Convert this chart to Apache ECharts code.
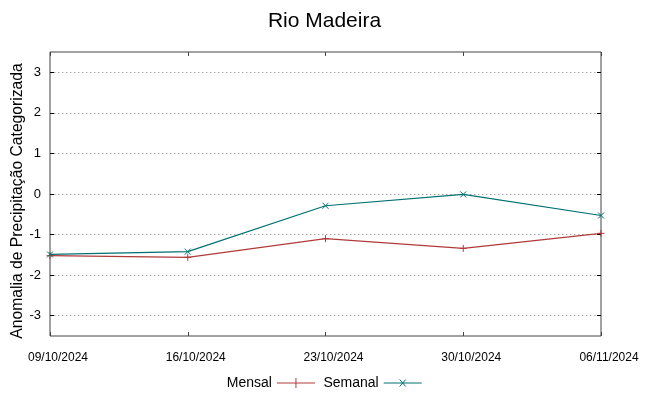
<!DOCTYPE html>
<html><head><meta charset="utf-8">
<script src="https://cdn.jsdelivr.net/npm/echarts@6/dist/echarts.min.js"></script>
<style>html,body{margin:0;padding:0;background:#fff}#c{width:649px;height:396px}</style>
</head><body><div id="c"></div>
<script>
const categories = ['09/10/2024','16/10/2024','23/10/2024','30/10/2024','06/11/2024'];
const mensal = [-1.52, -1.56, -1.10, -1.34, -0.97];
const semanal = [-1.49, -1.42, -0.29, -0.01, -0.53];
const yTicks = [-3, -2, -1, 0, 1, 2, 3];
const seriesNames = ['Mensal', 'Semanal'];
const colors = ['#b03a3a', '#007070'];

const plusPath = 'path://M0,5L10,5M5,0L5,10';
const crossPath = 'path://M0,0L10,10M10,0L0,10';
const legPlus = 'path://M0,5L38,5M19,0L19,10';
const legCross = 'path://M0,5L38,5M16,1.5L22,8.5M22,1.5L16,8.5';

const chart = echarts.init(document.getElementById('c'), null, {renderer: 'canvas'});
const font = 'Liberation Sans, Arial, sans-serif';
const yAxisBase = {
  type: 'value', min: -3.5, max: 3.5,
  axisLine: {show: false},
  axisTick: {show: true, inside: true, length: 4, customValues: yTicks, lineStyle: {color: '#000'}},
};
const xAxisBase = {
  type: 'category', data: categories, boundaryGap: false,
  axisLine: {show: false, onZero: false},
  axisTick: {show: true, inside: true, length: 4, alignWithLabel: true, lineStyle: {color: '#444'}},
  splitLine: {show: false}
};
chart.setOption({
  animation: false,
  title: {text: 'Rio Madeira', left: 'center', top: 6,
    textStyle: {fontFamily: font, fontSize: 21, fontWeight: 'normal', color: '#000'}},
  grid: {left: 50, right: 48, top: 52, bottom: 60, show: true, borderColor: '#444', borderWidth: 1,
    backgroundColor: 'transparent', outerBoundsMode: 'none', containLabel: false},
  legend: {
    bottom: 1, left: 'center', align: 'right', itemGap: 8, itemWidth: 38, itemHeight: 10,
    textStyle: {fontFamily: font, fontSize: 14, color: '#000'},
    data: [
      {name: seriesNames[0], icon: legPlus, itemStyle: {color: 'transparent', borderColor: colors[0], borderWidth: 1}},
      {name: seriesNames[1], icon: legCross, itemStyle: {color: 'transparent', borderColor: colors[1], borderWidth: 1}}
    ]
  },
  xAxis: [
    Object.assign({}, xAxisBase, {
      position: 'bottom',
      axisLabel: {fontFamily: font, fontSize: 12, color: '#000', margin: 16, padding: [0, 0, 0, 16],
        showMinLabel: true, showMaxLabel: true, interval: 0}
    }),
    Object.assign({}, xAxisBase, {
      position: 'top',
      axisLabel: {show: false}
    })
  ],
  yAxis: [
    Object.assign({}, yAxisBase, {
      position: 'left',
      name: 'Anomalia de Precipitação Categorizada', nameLocation: 'middle', nameGap: 24, nameMoveOverlap: false,
      nameTextStyle: {fontFamily: font, fontSize: 15.7, color: '#000', padding: [0, 14, 0, 0]},
      axisLabel: {customValues: yTicks, fontFamily: font, fontSize: 13, color: '#000', margin: 9},
      splitLine: {show: true, lineStyle: {color: '#aaa', type: [1.5, 2.5], width: 1}}
    }),
    Object.assign({}, yAxisBase, {
      position: 'right',
      axisLabel: {show: false},
      splitLine: {show: false}
    })
  ],
  series: [
    {name: seriesNames[0], type: 'line', data: mensal, symbol: plusPath, symbolSize: 7,
     lineStyle: {color: colors[0], width: 1.2}, itemStyle: {color: 'transparent', borderColor: colors[0], borderWidth: 1}, z: 3},
    {name: seriesNames[1], type: 'line', data: semanal, symbol: crossPath, symbolSize: 6,
     lineStyle: {color: colors[1], width: 1.2}, itemStyle: {color: 'transparent', borderColor: colors[1], borderWidth: 1}, z: 4}
  ]
});
</script></body></html>
